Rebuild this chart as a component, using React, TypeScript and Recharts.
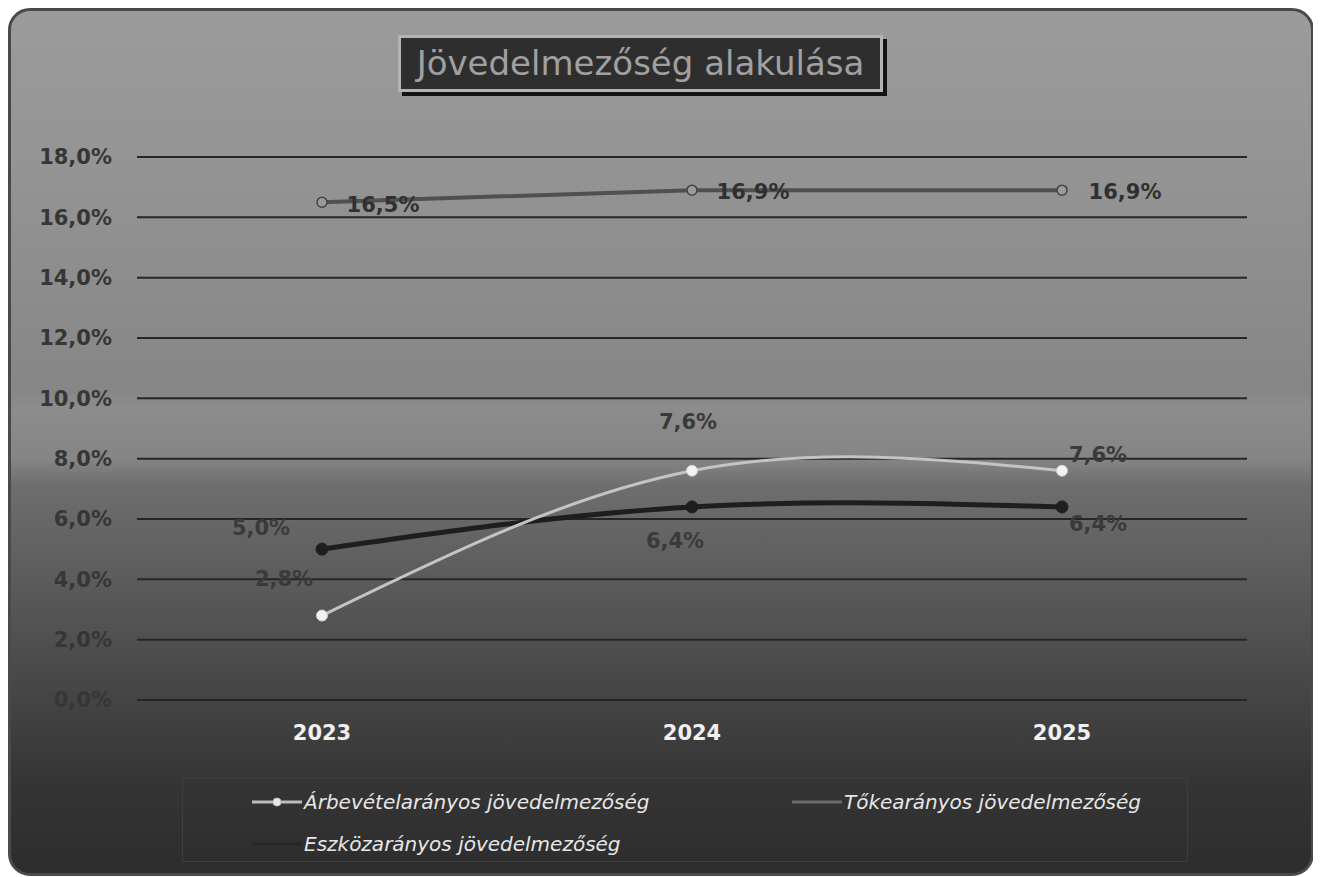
import React from "react";
import { LineChart, Line, XAxis, YAxis, CartesianGrid, LabelList } from "recharts";

const years = ["2023", "2024", "2025"];
const arbevetel = [2.8, 7.6, 7.6];
const toke = [16.5, 16.9, 16.9];
const eszkoz = [5.0, 6.4, 6.4];
const yTicks = [0, 2, 4, 6, 8, 10, 12, 14, 16, 18];

const seriesNames = {
  arbevetel: "Árbevételarányos jövedelmezőség",
  toke: "Tőkearányos jövedelmezőség",
  eszkoz: "Eszközarányos jövedelmezőség",
};

const data = years.map((y, i) => ({
  year: y,
  arbevetel: arbevetel[i],
  toke: toke[i],
  eszkoz: eszkoz[i],
}));

const FONT = "'DejaVu Sans', 'Liberation Sans', Arial, sans-serif";

const fmt = (v: number) => v.toFixed(1).replace(".", ",") + "%";

const labelOffsets: Record<string, [number, number][]> = {
  arbevetel: [[-38, -37], [-4, -49], [36, -16]],
  eszkoz: [[-61, -21], [-17, 34], [36, 17]],
  toke: [[61, 3], [61, 2], [63, 2]],
};

const makeLabel = (key: string, color: string) => (props: any) => {
  const { x, y, value, index } = props;
  const [dx, dy] = labelOffsets[key][index] || [0, 0];
  return (
    <text
      x={x + dx}
      y={y + dy}
      textAnchor="middle"
      dominantBaseline="central"
      fill={color}
      fontFamily={FONT}
      fontWeight="bold"
      fontSize={21}
    >
      {fmt(value)}
    </text>
  );
};

const LegendSwatch = ({ color, dot }: { color: string; dot?: boolean }) => (
  <svg width={50} height={12} style={{ verticalAlign: "middle", marginRight: 2 }}>
    <line x1={0} y1={6} x2={50} y2={6} stroke={color} strokeWidth={3} />
    {dot && <circle cx={25} cy={6} r={4} fill="#e8e8e8" stroke={color} strokeWidth={1} />}
  </svg>
);

export default function App() {
  return (
    <div
      style={{
        position: "relative",
        width: 1306,
        height: 868,
        boxSizing: "border-box",
        border: "3px solid #4a4a4a",
        borderRadius: 22,
        overflow: "hidden",
        background:
          "linear-gradient(to bottom, #9b9b9b 0%, #939393 20%, #868686 44%, #8c8c8c 46%, #858585 52%, #6e6e6e 55%, #585858 68%, #444444 80%, #343434 90%, #2d2d2d 100%)",
      }}
    >
      <div
        style={{
          position: "absolute",
          left: 387,
          top: 24,
          width: 485,
          height: 57,
          boxSizing: "border-box",
          border: "3px solid #b4b4b4",
          background: "#2e2e2e",
          boxShadow: "4px 4px 0 #141414",
          color: "#a0a0a0",
          fontFamily: FONT,
          fontSize: 34,
          lineHeight: "50px",
          textAlign: "center",
          whiteSpace: "nowrap",
        }}
      >
        Jövedelmezőség alakulása
      </div>

      <div style={{ position: "absolute", left: 0, top: 0 }}>
        <LineChart
          width={1300}
          height={862}
          data={data}
          margin={{ top: 146, right: 64, bottom: 133, left: 0 }}
        >
          <CartesianGrid vertical={false} horizontal stroke="#262626" strokeWidth={2} />
          <XAxis
            dataKey="year"
            axisLine={false}
            tickLine={false}
            tickSize={0}
            tickMargin={25}
            height={40}
            padding={{ left: 185, right: 185 }}
            tick={{ fill: "#f0f0f0", fontSize: 21, fontWeight: "bold", fontFamily: FONT }}
          />
          <YAxis
            domain={[0, 18]}
            ticks={yTicks}
            width={126}
            axisLine={false}
            tickLine={false}
            tickSize={0}
            tickMargin={25}
            tickFormatter={(v: number) => fmt(v)}
            tick={{ fill: "#363636", fontSize: 21, fontWeight: "bold", fontFamily: FONT }}
            interval={0}
          />
          <Line
            type="linear"
            dataKey="toke"
            name={seriesNames.toke}
            stroke="#505050"
            strokeWidth={4}
            dot={{ r: 5, fill: "#9a9a9a", stroke: "#444", strokeWidth: 1.5 }}
            isAnimationActive={false}
          >
            <LabelList dataKey="toke" content={makeLabel("toke", "#303030")} />
          </Line>
          <Line
            type="natural"
            dataKey="eszkoz"
            name={seriesNames.eszkoz}
            stroke="#1e1e1e"
            strokeWidth={5}
            dot={{ r: 6, fill: "#1e1e1e", stroke: "#1e1e1e", strokeWidth: 1 }}
            isAnimationActive={false}
          >
            <LabelList dataKey="eszkoz" content={makeLabel("eszkoz", "#3a3a3a")} />
          </Line>
          <Line
            type="natural"
            dataKey="arbevetel"
            name={seriesNames.arbevetel}
            stroke="#c4c4c4"
            strokeWidth={3}
            dot={{ r: 5.5, fill: "#f2f2f2", stroke: "#d0d0d0", strokeWidth: 1 }}
            isAnimationActive={false}
          >
            <LabelList dataKey="arbevetel" content={makeLabel("arbevetel", "#3a3a3a")} />
          </Line>
        </LineChart>
      </div>

      <div
        style={{
          position: "absolute",
          left: 171,
          top: 767,
          width: 1006,
          height: 84,
          boxSizing: "border-box",
          border: "1px solid #3e3e3e",
          fontFamily: FONT,
          fontStyle: "italic",
          fontSize: 20,
          color: "#e6e6e6",
        }}
      >
        <div style={{ position: "absolute", left: 69, top: 9, whiteSpace: "nowrap" }}>
          <LegendSwatch color="#bdbdbd" dot />
          <span style={{ verticalAlign: "middle" }}>{seriesNames.arbevetel}</span>
        </div>
        <div style={{ position: "absolute", left: 609, top: 9, whiteSpace: "nowrap" }}>
          <LegendSwatch color="#6a6a6a" />
          <span style={{ verticalAlign: "middle" }}>{seriesNames.toke}</span>
        </div>
        <div style={{ position: "absolute", left: 69, top: 51, whiteSpace: "nowrap" }}>
          <LegendSwatch color="#262626" />
          <span style={{ verticalAlign: "middle" }}>{seriesNames.eszkoz}</span>
        </div>
      </div>
    </div>
  );
}
